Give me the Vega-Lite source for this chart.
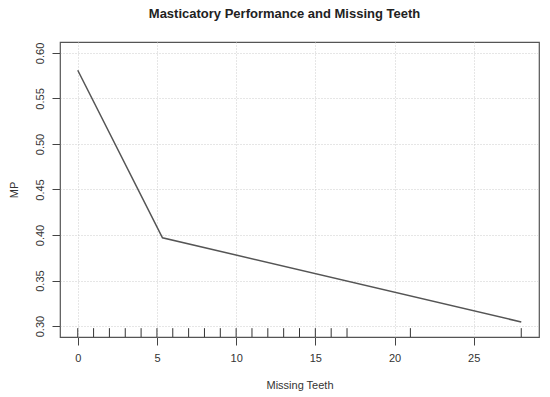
{
  "$schema": "https://vega.github.io/schema/vega-lite/v6.json",
  "autosize": {"type": "none"},
  "width": 479,
  "height": 295,
  "padding": {"left": 60, "top": 42, "right": 11, "bottom": 60},
  "background": "white",
  "config": {
    "font": "Liberation Sans",
    "view": {"stroke": "#555555", "strokeWidth": 1.2},
    "axis": {
      "domain": false,
      "grid": true,
      "gridColor": "#cccccc",
      "gridDash": [1, 2],
      "gridWidth": 1,
      "tickColor": "#444444",
      "tickSize": 8,
      "labelFont": "Liberation Sans",
      "labelFontSize": 11,
      "labelColor": "#333333",
      "titleFont": "Liberation Sans",
      "titleFontSize": 11,
      "titleFontWeight": "normal",
      "titleColor": "#333333"
    }
  },
  "title": {
    "text": "Masticatory Performance and Missing Teeth",
    "font": "Liberation Sans",
    "fontSize": 13,
    "fontWeight": "bold",
    "color": "#222222",
    "anchor": "middle",
    "dx": -15,
    "offset": 21
  },
  "datasets": {
    "curve": [
      {"teeth": 0, "mp": 0.581},
      {"teeth": 5.35, "mp": 0.397},
      {"teeth": 28, "mp": 0.3045}
    ],
    "rug": [
      {"teeth": 0}, {"teeth": 1}, {"teeth": 2}, {"teeth": 3}, {"teeth": 4},
      {"teeth": 5}, {"teeth": 6}, {"teeth": 7}, {"teeth": 8}, {"teeth": 9},
      {"teeth": 10}, {"teeth": 11}, {"teeth": 12}, {"teeth": 13}, {"teeth": 14},
      {"teeth": 15}, {"teeth": 16}, {"teeth": 17}, {"teeth": 21}, {"teeth": 28}
    ]
  },
  "layer": [
    {
      "data": {"name": "curve"},
      "mark": {"type": "line", "color": "#555555", "strokeWidth": 1.5},
      "encoding": {
        "x": {
          "field": "teeth",
          "type": "quantitative",
          "scale": {"domain": [-1.12, 29.12], "nice": false, "zero": false},
          "axis": {
            "values": [0, 5, 10, 15, 20, 25],
            "title": "Missing Teeth",
            "labelPadding": 7,
            "titlePadding": 16
          }
        },
        "y": {
          "field": "mp",
          "type": "quantitative",
          "scale": {"domain": [0.288, 0.612], "nice": false, "zero": false},
          "axis": {
            "values": [0.3, 0.35, 0.4, 0.45, 0.5, 0.55, 0.6],
            "format": ".2f",
            "title": "MP",
            "labelAngle": -90,
            "labelAlign": "center",
            "labelBaseline": "bottom",
            "labelPadding": 7,
            "titlePadding": 15
          }
        }
      }
    },
    {
      "data": {"name": "rug"},
      "mark": {"type": "rule", "color": "#333333", "strokeWidth": 1},
      "encoding": {
        "x": {"field": "teeth", "type": "quantitative"},
        "y": {"datum": 0.288},
        "y2": {"datum": 0.2977}
      }
    }
  ]
}
